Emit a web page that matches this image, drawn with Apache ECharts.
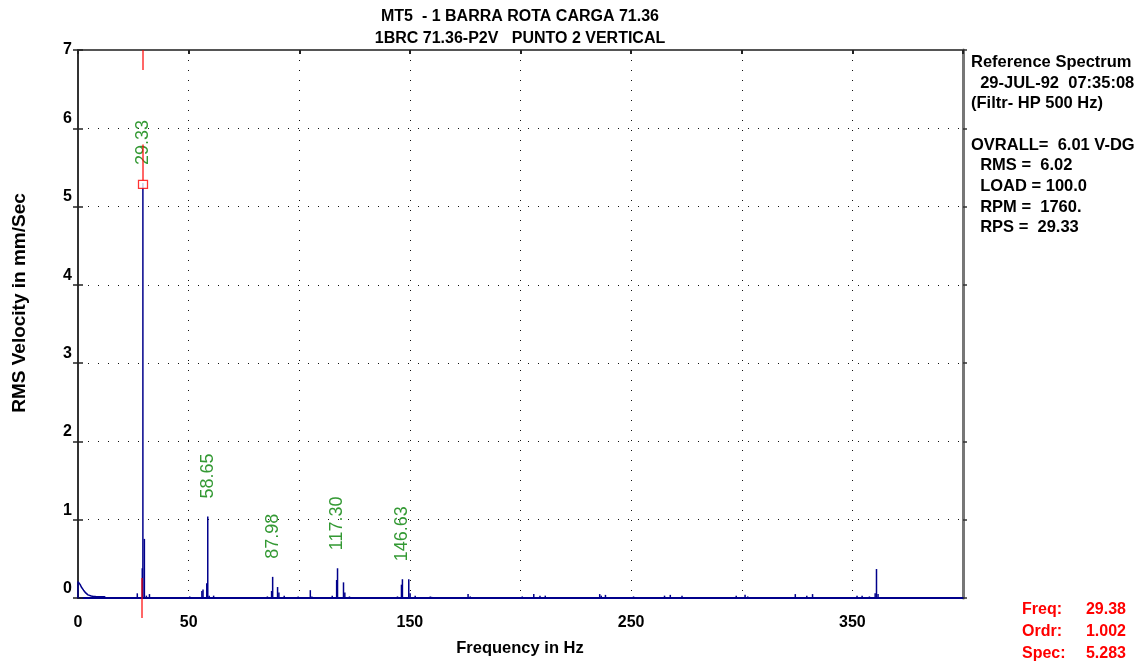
<!DOCTYPE html>
<html>
<head>
<meta charset="utf-8">
<script src="https://cdn.jsdelivr.net/npm/echarts/dist/echarts.min.js"></script>
<style>
html, body { margin: 0; padding: 0; background: #fff; }
#chart { width: 1144px; height: 664px; }
</style>
</head>
<body>
<div id="chart"></div>
<script>
// ---- chart text ----
const titleLines = ['MT5  - 1 BARRA ROTA CARGA 71.36', '1BRC 71.36-P2V   PUNTO 2 VERTICAL'];
const xAxisTitle = 'Frequency in Hz';
const yAxisTitle = 'RMS Velocity in mm/Sec';
const xTickLabels = [0, 50, 150, 250, 350];
const infoLines = [
  'Reference Spectrum',
  '  29-JUL-92  07:35:08',
  '(Filtr- HP 500 Hz)',
  '',
  'OVRALL=  6.01 V-DG',
  '  RMS =  6.02',
  '  LOAD = 100.0',
  '  RPM =  1760.',
  '  RPS =  29.33'
];

// ---- spectrum: discrete lines (Hz, mm/s RMS) ----
const spectrumFreq = [
  26.8, 29.05, 29.33, 30.0, 30.9, 32.3,
  47.7, 50.5, 56.0, 56.5, 58.2, 58.65, 59.3, 61.3,
  85.6, 87.5, 87.98, 90.2, 90.8, 93.2,
  99.5, 101.0, 102.5, 105.0, 105.7,
  114.9, 116.9, 117.30, 120.0, 120.6, 122.7,
  144.4, 146.2, 146.63, 149.5, 150.1, 152.4, 159.2, 159.8,
  174.2, 176.3, 177.3, 179.4, 189.0,
  200.8, 206.0, 208.8, 211.2,
  235.8, 236.5, 238.4, 240.6, 251.1,
  265.1, 267.7, 273.0, 285.2, 292.1, 294.9, 297.5,
  301.5, 302.7, 308.8, 316.1, 324.2, 329.4, 332.0,
  352.1, 354.4, 356.0, 357.7, 360.3, 360.9, 361.6, 363.0,
  389.2, 392.0, 398.9
];
const spectrumAmp = [
  0.06, 0.38, 5.30, 0.755, 0.03, 0.05,
  0.01, 0.02, 0.09, 0.11, 0.19, 1.04, 0.03, 0.03,
  0.02, 0.09, 0.27, 0.14, 0.07, 0.03,
  0.02, 0.01, 0.01, 0.10, 0.02,
  0.03, 0.23, 0.38, 0.20, 0.07, 0.02,
  0.02, 0.17, 0.24, 0.24, 0.06, 0.03, 0.02, 0.015,
  0.01, 0.05, 0.02, 0.01, 0.005,
  0.02, 0.05, 0.03, 0.03,
  0.05, 0.03, 0.04, 0.01, 0.02,
  0.03, 0.04, 0.03, 0.01, 0.01, 0.01, 0.03,
  0.04, 0.02, 0.01, 0.01, 0.05, 0.03, 0.05,
  0.03, 0.03, 0.01, 0.02, 0.06, 0.37, 0.05, 0.01,
  0.005, 0.005, 0.01
];

// ---- low-frequency ski slope ----
const lowFreq = [0, 0, 0.5, 1, 1.5, 2, 2.5, 3, 3.5, 4, 4.5, 5, 6, 7, 8, 9, 10, 11, 12, 12.6, 12.6];
const lowAmp  = [0, 0.21, 0.20, 0.17, 0.14, 0.12, 0.10, 0.08, 0.065, 0.05, 0.04, 0.03, 0.025, 0.02, 0.018, 0.017, 0.016, 0.016, 0.015, 0.015, 0];

// ---- labelled running-speed harmonics ----
const harmonicFreq = [29.33, 58.65, 87.98, 117.30, 146.63];

// ---- cursor readout ----
const cursorFreq = 29.38;
const cursorOrder = 1.002;
const cursorSpec = 5.283;

const xMin = 0, xMax = 400, xStep = 50;
const yMin = 0, yMax = 7, yStep = 1;

const FONT = '"Liberation Sans", Arial, Helvetica, sans-serif';
const NAVY = '#00008B';
const GREEN = '#008000';
const RED = '#FF0000';

const spikeData = spectrumFreq.map((f, i) => [f, spectrumAmp[i]]);
const lowData = lowFreq.map((f, i) => [f, lowAmp[i]]);
const harmonicData = harmonicFreq.map(f => [f, spectrumAmp[spectrumFreq.indexOf(f)]]);

const chart = echarts.init(document.getElementById('chart'), null, { renderer: 'canvas' });

const dotted = { color: '#111', width: 1, type: [1, 9] };
const tickFont = { fontFamily: FONT, fontSize: 16, fontWeight: 'bold', color: '#000' };

const option = {
  animation: false,
  backgroundColor: '#fff',
  grid: { left: 78, top: 50, right: 181, bottom: 66, containLabel: false },
  xAxis: [
    {
      type: 'value', min: xMin, max: xMax, interval: xStep, position: 'bottom',
      axisLine: { show: true, onZero: false, lineStyle: { color: NAVY, width: 2 } },
      axisTick: { show: false },
      splitLine: { show: true, lineStyle: dotted },
      axisLabel: Object.assign({
        margin: 17,
        formatter: v => (xTickLabels.indexOf(v) >= 0 ? String(v) : '')
      }, tickFont)
    },
    {
      type: 'value', min: xMin, max: xMax, interval: xStep, position: 'top',
      axisLine: { show: true, onZero: false, lineStyle: { color: '#555', width: 2 } },
      axisTick: { show: true, inside: true, length: 4, lineStyle: { color: '#222', width: 2 } },
      axisLabel: { show: false },
      splitLine: { show: false }
    }
  ],
  yAxis: [
    {
      type: 'value', min: yMin, max: yMax, interval: yStep, position: 'left',
      axisLine: { show: true, onZero: false, lineStyle: { color: '#333', width: 2 } },
      axisTick: { show: true, length: 5, lineStyle: { color: '#222', width: 1.5 } },
      splitLine: { show: true, lineStyle: dotted },
      axisLabel: {
        margin: 6,
        formatter: v => (v === yMax ? '{t|' + v + '}' : '{n|' + v + '}'),
        rich: {
          t: Object.assign({}, tickFont),
          n: Object.assign({ padding: [0, 0, 19, 0] }, tickFont)
        }
      }
    },
    {
      type: 'value', min: yMin, max: yMax, interval: yStep, position: 'right',
      axisLine: { show: true, onZero: false, lineStyle: { color: '#777', width: 3 } },
      axisTick: { show: true, length: 4, lineStyle: { color: '#333', width: 1.5 } },
      axisLabel: { show: false },
      splitLine: { show: false }
    },
    {
      // inner half of the left-hand tick marks (they straddle the axis)
      type: 'value', min: yMin, max: yMax, interval: yStep, position: 'left',
      axisLine: { show: false, onZero: false },
      axisTick: { show: true, inside: true, length: 5, lineStyle: { color: '#222', width: 1.5 } },
      axisLabel: { show: false },
      splitLine: { show: false }
    }
  ],
  series: [
    {
      // cursor hairline pieces: top edge, above the marker, and across the baseline
      type: 'custom', name: 'cursor', z: 7, clip: false,
      data: [[cursorFreq, cursorSpec]],
      renderItem: (params, api) => {
        const f = api.value(0);
        const top = api.coord([f, yMax]);
        const base = api.coord([f, yMin]);
        const m = api.coord([f, api.value(1)]);
        const st = { stroke: RED, lineWidth: 1.2 };
        return {
          type: 'group',
          children: [
            { type: 'line', shape: { x1: top[0], y1: top[1], x2: top[0], y2: top[1] + 20 }, style: st },
            { type: 'line', shape: { x1: m[0], y1: m[1] - 4, x2: m[0], y2: m[1] - 40 }, style: st },
            { type: 'line', shape: { x1: base[0] - 1, y1: base[1] - 20, x2: base[0] - 1, y2: base[1] + 20 }, style: st }
          ]
        };
      }
    },
    {
      type: 'line', name: 'low', z: 3, data: lowData, showSymbol: false, symbol: 'none',
      lineStyle: { color: NAVY, width: 1.5 }
    },
    {
      type: 'custom', name: 'spectrum', z: 4,
      data: spikeData,
      renderItem: (params, api) => {
        const p0 = api.coord([api.value(0), 0]);
        const p1 = api.coord([api.value(0), api.value(1)]);
        return {
          type: 'line',
          shape: { x1: p0[0], y1: p0[1], x2: p1[0], y2: p1[1] },
          style: { stroke: NAVY, lineWidth: 1.5 }
        };
      }
    },
    {
      type: 'scatter', name: 'harmonics', z: 5,
      data: harmonicData, symbolSize: 0,
      label: {
        show: true, position: 'top', distance: 18, rotate: 90,
        align: 'left', verticalAlign: 'middle',
        formatter: p => p.value[0].toFixed(2),
        color: GREEN, fontFamily: FONT, fontSize: 18
      }
    },
    {
      type: 'scatter', name: 'marker', z: 8,
      data: [[cursorFreq, cursorSpec]],
      symbol: 'rect', symbolSize: [9, 8],
      itemStyle: { color: '#fff', borderColor: RED, borderWidth: 1.2 }
    }
  ],
  graphic: [
    {
      type: 'text', x: 520, y: 6,
      style: {
        text: titleLines.join('\n'), align: 'center', verticalAlign: 'top',
        fontFamily: FONT, fontSize: 16, fontWeight: 'bold', lineHeight: 22, fill: '#000'
      }
    },
    {
      type: 'text', x: 520, y: 648,
      style: {
        text: xAxisTitle, align: 'center', verticalAlign: 'middle',
        fontFamily: FONT, fontSize: 16.5, fontWeight: 'bold', fill: '#000'
      }
    },
    {
      type: 'text', x: 20, y: 303, rotation: Math.PI / 2,
      style: {
        text: yAxisTitle, align: 'center', verticalAlign: 'middle',
        fontFamily: FONT, fontSize: 19, fontWeight: 'bold', fill: '#000'
      }
    },
    {
      type: 'text', x: 971, y: 52,
      style: {
        text: infoLines.join('\n'), align: 'left', verticalAlign: 'top',
        fontFamily: FONT, fontSize: 16.5, fontWeight: 'bold', lineHeight: 20.7, fill: '#000'
      }
    },
    {
      type: 'text', x: 1022, y: 599,
      style: {
        text: 'Freq:\nOrdr:\nSpec:', align: 'left', verticalAlign: 'top',
        fontFamily: FONT, fontSize: 16, fontWeight: 'bold', lineHeight: 22, fill: RED
      }
    },
    {
      type: 'text', x: 1126, y: 599,
      style: {
        text: [cursorFreq.toFixed(2), cursorOrder.toFixed(3), cursorSpec.toFixed(3)].join('\n'),
        align: 'right', verticalAlign: 'top',
        fontFamily: FONT, fontSize: 16, fontWeight: 'bold', lineHeight: 22, fill: RED
      }
    }
  ]
};

chart.setOption(option);
</script>
</body>
</html>
